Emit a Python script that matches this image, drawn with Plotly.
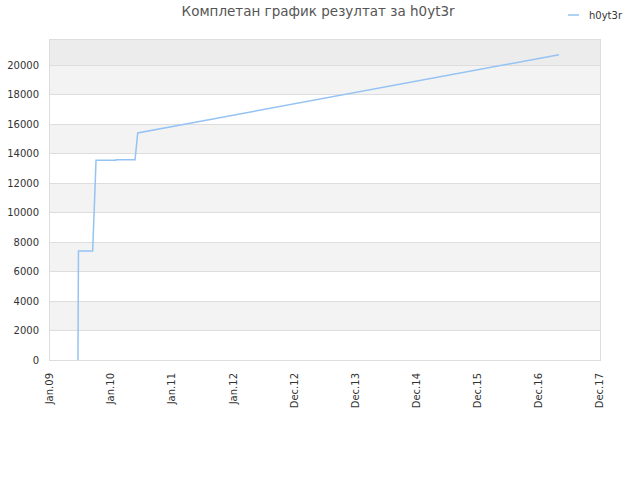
import plotly.graph_objects as go

# data
dates = ['2009-06-17', '2009-06-17', '2009-06-20', '2009-09-13', '2009-09-15',
         '2009-09-18', '2009-09-22', '2009-09-26', '2009-10-01', '2009-10-03',
         '2010-01-29', '2010-01-30', '2010-05-24', '2010-06-04', '2010-06-09',
         '2017-04-29']
values = [0, 7150, 7400, 7400, 8000, 9300, 10000, 10900, 13400, 13540,
          13540, 13580, 13580, 15300, 15400, 20700]

tick_dates = ['2009-01-01', '2010-01-01', '2011-01-01', '2012-01-01', '2012-12-31',
              '2013-12-31', '2014-12-31', '2015-12-31', '2016-12-30', '2017-12-30']
tick_labels = ['Jan.09', 'Jan.10', 'Jan.11', 'Jan.12', 'Dec.12',
               'Dec.13', 'Dec.14', 'Dec.15', 'Dec.16', 'Dec.17']
y_ticks = list(range(0, 20001, 2000))
y_labels = [str(v) for v in y_ticks]
y_max = 21700
series_name = 'h0yt3r'
title = 'Комплетан график резултат за h0yt3r'
line_color = '#95c3f3'

L, R, T, B = 50, 40, 40, 120
PW, PH = 640 - L - R, 480 - T - B


def px_x(x):
    return (x - L) / PW


def px_y(y):
    return (480 - B - y) / PH


fig = go.Figure()
fig.add_trace(go.Scatter(x=dates, y=values, mode='lines', name=series_name,
                         line=dict(color=line_color, width=1.5), showlegend=False))

shapes = []
for lo in range(2000, 20000, 4000):
    shapes.append(dict(type='rect', xref='paper', yref='y', x0=0, x1=1, y0=lo, y1=lo + 2000,
                       fillcolor='#f3f3f3', line=dict(width=0), layer='below'))
shapes.append(dict(type='rect', xref='paper', yref='y', x0=0, x1=1, y0=20000, y1=y_max,
                   fillcolor='#ececec', line=dict(width=0), layer='below'))
# legend sample line (custom legend)
shapes.append(dict(type='line', xref='paper', yref='paper', x0=px_x(568), x1=px_x(579),
                   y0=px_y(15), y1=px_y(15), line=dict(color=line_color, width=1.5)))

fig.update_layout(
    width=640, height=480,
    margin=dict(l=L, r=R, t=T, b=B),
    paper_bgcolor='white', plot_bgcolor='white',
    font=dict(family='DejaVu Sans', size=10, color='#333'),
    title=dict(text=title, x=0.497, xanchor='center', y=0.976, yanchor='middle',
               font=dict(size=13.5, color='#555')),
    shapes=shapes,
    showlegend=False,
    annotations=[dict(text=series_name, xref='paper', yref='paper',
                      x=px_x(587), y=px_y(15), xanchor='left', yanchor='middle',
                      showarrow=False, font=dict(size=10, color='#333'))],
    xaxis=dict(type='date', range=['2009-01-01', '2017-12-30'], tickvals=tick_dates,
               ticktext=tick_labels, tickangle=-90, showgrid=False, showline=True,
               linecolor='#dddddd', mirror=True, ticks='', zeroline=False, automargin=False,
               ticklabelstandoff=8, tickfont=dict(size=10, color='#333')),
    yaxis=dict(range=[0, y_max], tickvals=y_ticks, ticktext=y_labels, showgrid=True,
               gridcolor='#dddddd', showline=True, linecolor='#dddddd', mirror=True,
               zeroline=False, ticks='', automargin=False, ticklabelstandoff=8,
               tickfont=dict(size=10, color='#333')),
)

fig.write_html('out.html', config={'displayModeBar': False},
               post_script="document.body.style.margin='0';")
